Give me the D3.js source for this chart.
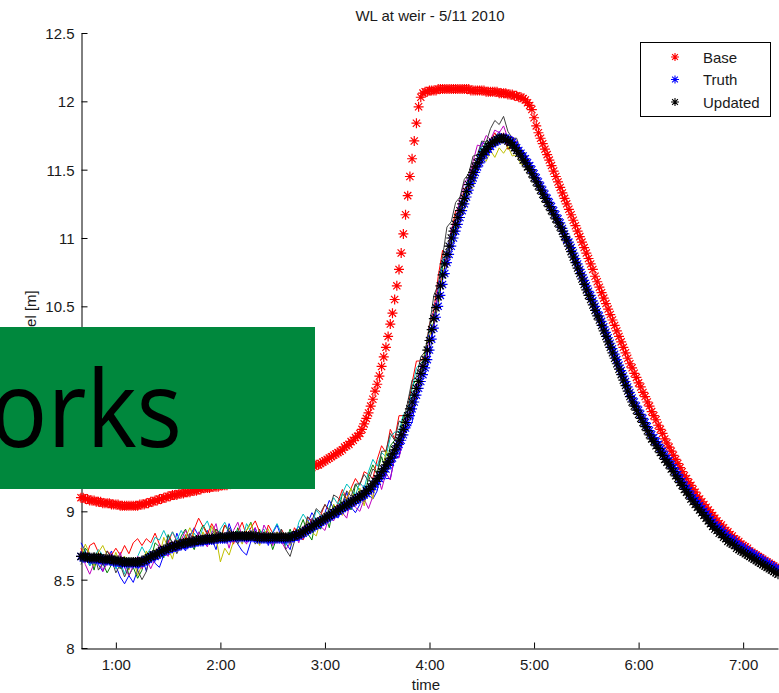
<!DOCTYPE html>
<html>
<head>
<meta charset="utf-8">
<script src="https://cdn.jsdelivr.net/npm/d3@7"></script>
<style>
  body { margin: 0; background: #fff; }
  svg { display: block; }
  text { font-family: "Liberation Sans", Arial, Helvetica, sans-serif; }
</style>
</head>
<body>
<svg id="chart" width="779" height="693"></svg>
<script>
// Time grid: minutes after midnight, first sample and spacing
const startMinute = 40;
const stepMinutes = 1.25;

// Water level at the weir [m], one value per time step
const baseLevel = [
  9.10,9.10,9.09,9.09,9.08,9.08,9.08,9.07,9.07,9.07,9.06,9.06,9.06,9.06,9.05,9.05,
  9.05,9.05,9.04,9.04,9.04,9.04,9.04,9.04,9.04,9.04,9.04,9.05,9.05,9.05,9.06,9.06,
  9.07,9.07,9.08,9.08,9.09,9.09,9.10,9.10,9.11,9.11,9.12,9.12,9.12,9.13,9.13,9.13,
  9.14,9.14,9.14,9.15,9.15,9.15,9.16,9.16,9.17,9.17,9.17,9.17,9.18,9.18,9.18,9.18,
  9.19,9.19,9.19,9.19,9.20,9.20,9.20,9.20,9.21,9.21,9.21,9.21,9.22,9.22,9.22,9.22,
  9.23,9.23,9.23,9.24,9.24,9.24,9.25,9.25,9.25,9.26,9.26,9.26,9.27,9.27,9.27,9.28,
  9.28,9.28,9.29,9.29,9.30,9.30,9.30,9.31,9.31,9.32,9.32,9.33,9.34,9.34,9.35,9.36,
  9.37,9.38,9.39,9.40,9.41,9.42,9.43,9.44,9.45,9.47,9.48,9.49,9.51,9.52,9.54,9.55,
  9.57,9.60,9.64,9.68,9.72,9.77,9.82,9.88,9.93,9.99,10.06,10.13,10.20,10.28,10.37,10.45,
  10.55,10.65,10.77,10.89,11.03,11.17,11.31,11.45,11.58,11.71,11.84,11.96,12.03,12.06,12.07,12.07,
  12.08,12.08,12.08,12.08,12.09,12.09,12.09,12.09,12.09,12.09,12.09,12.09,12.09,12.09,12.09,12.09,
  12.09,12.09,12.09,12.08,12.08,12.08,12.08,12.08,12.08,12.08,12.07,12.07,12.07,12.07,12.07,12.07,
  12.06,12.06,12.06,12.06,12.05,12.05,12.05,12.04,12.04,12.03,12.03,12.02,12.01,11.99,11.97,11.94,
  11.88,11.82,11.77,11.73,11.69,11.65,11.61,11.57,11.53,11.49,11.45,11.41,11.37,11.33,11.29,11.25,
  11.21,11.17,11.13,11.09,11.05,11.01,10.97,10.93,10.89,10.85,10.81,10.77,10.72,10.68,10.64,10.60,
  10.56,10.52,10.48,10.44,10.40,10.36,10.32,10.28,10.24,10.20,10.16,10.12,10.08,10.05,10.01,9.98,
  9.94,9.91,9.87,9.84,9.80,9.77,9.73,9.70,9.67,9.63,9.60,9.57,9.53,9.50,9.47,9.44,
  9.41,9.38,9.35,9.32,9.29,9.26,9.24,9.21,9.19,9.16,9.14,9.11,9.09,9.07,9.05,9.03,
  9.01,8.99,8.97,8.95,8.93,8.91,8.90,8.88,8.86,8.85,8.83,8.82,8.80,8.79,8.78,8.76,
  8.75,8.74,8.73,8.71,8.70,8.69,8.68,8.67,8.66,8.65,8.64,8.63,8.62,8.61,8.60,8.59,
  8.58
];

const truthLevel = [
  8.67,8.66,8.66,8.66,8.66,8.65,8.65,8.65,8.65,8.65,8.64,8.64,8.64,8.64,8.64,8.63,
  8.63,8.63,8.63,8.62,8.62,8.62,8.62,8.62,8.62,8.62,8.62,8.62,8.63,8.63,8.64,8.65,
  8.66,8.67,8.67,8.68,8.69,8.70,8.71,8.71,8.72,8.73,8.73,8.74,8.74,8.75,8.75,8.76,
  8.76,8.76,8.77,8.77,8.77,8.78,8.78,8.78,8.78,8.79,8.79,8.79,8.79,8.79,8.80,8.80,
  8.80,8.80,8.80,8.80,8.81,8.81,8.81,8.81,8.81,8.81,8.81,8.81,8.81,8.81,8.81,8.81,
  8.81,8.80,8.80,8.80,8.80,8.80,8.80,8.80,8.80,8.80,8.80,8.80,8.80,8.80,8.80,8.80,
  8.80,8.81,8.81,8.82,8.82,8.83,8.84,8.85,8.86,8.87,8.88,8.89,8.90,8.91,8.92,8.93,
  8.94,8.95,8.96,8.97,8.98,8.99,9.00,9.01,9.02,9.03,9.04,9.05,9.06,9.07,9.08,9.09,
  9.10,9.11,9.12,9.13,9.15,9.16,9.18,9.20,9.22,9.24,9.26,9.29,9.31,9.34,9.36,9.39,
  9.42,9.45,9.49,9.52,9.56,9.61,9.65,9.70,9.75,9.80,9.85,9.90,9.95,10.00,10.05,10.11,
  10.18,10.26,10.34,10.42,10.50,10.58,10.66,10.74,10.82,10.88,10.94,11.00,11.05,11.10,11.15,11.20,
  11.25,11.30,11.35,11.40,11.44,11.48,11.52,11.55,11.58,11.61,11.63,11.65,11.67,11.69,11.70,11.71,
  11.72,11.73,11.73,11.73,11.72,11.71,11.70,11.68,11.66,11.64,11.62,11.60,11.58,11.55,11.53,11.50,
  11.47,11.44,11.41,11.38,11.35,11.32,11.29,11.26,11.23,11.20,11.17,11.14,11.11,11.07,11.03,10.99,
  10.97,10.93,10.89,10.85,10.81,10.77,10.73,10.69,10.65,10.61,10.58,10.54,10.50,10.46,10.43,10.39,
  10.35,10.31,10.27,10.23,10.19,10.15,10.11,10.07,10.03,9.99,9.95,9.91,9.87,9.83,9.80,9.77,
  9.74,9.71,9.68,9.65,9.62,9.59,9.56,9.54,9.51,9.49,9.46,9.44,9.41,9.39,9.37,9.34,
  9.32,9.29,9.27,9.24,9.22,9.19,9.17,9.15,9.12,9.10,9.08,9.06,9.04,9.02,9.00,8.98,
  8.96,8.94,8.92,8.90,8.89,8.87,8.86,8.84,8.83,8.81,8.80,8.79,8.78,8.76,8.75,8.74,
  8.73,8.72,8.71,8.70,8.69,8.68,8.67,8.66,8.65,8.64,8.63,8.62,8.61,8.60,8.59,8.58,
  8.57
];

const updatedLevel = [
  8.67,8.67,8.67,8.66,8.66,8.66,8.66,8.66,8.66,8.66,8.65,8.65,8.65,8.65,8.65,8.64,
  8.64,8.64,8.64,8.63,8.63,8.63,8.63,8.63,8.63,8.63,8.63,8.63,8.64,8.64,8.65,8.66,
  8.67,8.68,8.68,8.69,8.70,8.71,8.72,8.72,8.73,8.74,8.74,8.75,8.75,8.76,8.76,8.77,
  8.77,8.77,8.78,8.78,8.78,8.79,8.79,8.79,8.79,8.80,8.80,8.80,8.80,8.80,8.81,8.81,
  8.81,8.81,8.81,8.81,8.82,8.82,8.82,8.82,8.82,8.82,8.82,8.82,8.82,8.82,8.82,8.82,
  8.82,8.81,8.81,8.81,8.81,8.81,8.81,8.81,8.81,8.81,8.81,8.81,8.81,8.81,8.81,8.81,
  8.81,8.82,8.82,8.83,8.83,8.84,8.85,8.86,8.87,8.88,8.89,8.90,8.91,8.92,8.93,8.94,
  8.95,8.96,8.97,8.98,8.99,9.00,9.01,9.02,9.03,9.04,9.05,9.06,9.07,9.08,9.09,9.10,
  9.11,9.12,9.13,9.15,9.16,9.18,9.20,9.22,9.24,9.26,9.29,9.31,9.34,9.36,9.39,9.42,
  9.45,9.48,9.52,9.56,9.60,9.65,9.70,9.75,9.80,9.85,9.90,9.95,10.01,10.06,10.11,10.18,
  10.25,10.33,10.41,10.49,10.57,10.65,10.73,10.81,10.88,10.94,11.00,11.05,11.10,11.15,11.20,11.25,
  11.29,11.34,11.39,11.44,11.48,11.52,11.55,11.58,11.61,11.63,11.65,11.67,11.69,11.70,11.71,11.72,
  11.73,11.73,11.73,11.72,11.71,11.70,11.68,11.66,11.64,11.62,11.60,11.57,11.55,11.52,11.50,11.47,
  11.44,11.41,11.38,11.35,11.32,11.29,11.26,11.23,11.20,11.17,11.14,11.11,11.08,11.05,11.01,10.98,
  10.94,10.90,10.86,10.82,10.78,10.74,10.70,10.66,10.62,10.58,10.55,10.51,10.47,10.43,10.40,10.36,
  10.32,10.28,10.24,10.20,10.16,10.12,10.08,10.04,10.00,9.96,9.92,9.88,9.84,9.80,9.77,9.74,
  9.71,9.68,9.65,9.62,9.59,9.56,9.53,9.51,9.48,9.46,9.43,9.41,9.38,9.36,9.34,9.31,
  9.29,9.26,9.24,9.21,9.19,9.16,9.14,9.12,9.09,9.07,9.05,9.03,9.01,8.99,8.97,8.95,
  8.93,8.91,8.89,8.87,8.86,8.84,8.83,8.81,8.80,8.78,8.77,8.76,8.75,8.73,8.72,8.71,
  8.70,8.69,8.68,8.67,8.66,8.65,8.64,8.63,8.62,8.61,8.60,8.59,8.58,8.57,8.56,8.55,
  8.54
];

// Ensemble members: offsets in cm from the updated level, every second time step
const memberOffsets = [
  [ 10,4,-6,3,-5,-9,0,6, -4,-12,-16,-10,-15,-6,3,-9, 4,-6,-11,-4,6,-3,9,0, -6,4,10,3,-4,6,0,-9,
    4,-3,9,0,-6,-11,-14,-4, 6,-3,4,-6,3,9,0,-4, -9,3,6,-4,4,10,3,-6, 4,11,3,-6,0,9,-4,-10,
    -6,6,-4,-11,-9,4,-10,-15, -6,-12,-4,-10,-15,-6,3,-8, -12,-4,5,-3,-9,2,-6,4, -2,6,-3,4,9,3,-4,2,
    5,-3,2,6,-2,4,1,-3, 2,-1,3,0,-2,1,-1,2, 0,2,-1,1,-2,0,1,-1, 1,-1,2,0,-1,1,-2,0,
    1,0,-1,2,0,-1,1,0, -1,1,0,-1,1,0,-1,1, 0,-1,1,0,0,-1,1,0, -1,0,1,0,-1,1,0,-1, 0 ],
  [ -4,6,3,-9,4,-3,-10,-4, 3,-6,4,-10,-4,-12,-7,4, -3,9,4,-6,10,3,-4,6, 10,0,-6,4,11,4,-3,6,
    0,9,3,-4,6,-3,4,10, -3,6,-4,3,-9,0,4,-3, 6,-4,3,9,-3,-10,4,-6, 3,-9,6,-3,10,4,-6,11,
    4,-6,10,14,4,11,-4,9, 7,2,9,4,12,6,-3,5, 10,3,-5,6,2,-4,8,-2, 4,-3,5,-6,2,6,-2,3,
    -4,2,-6,1,4,-2,3,-1, -2,1,-3,0,2,-1,1,0, 1,-1,0,2,-1,1,0,-1, 0,1,-1,0,1,-1,0,1,
    -1,0,1,-1,0,1,-1,0, 1,-1,0,1,-1,0,1,-1, 0,1,-1,0,1,0,-1,0, 1,0,-1,0,1,-1,0,1, 0 ],
  [ 6,-3,9,11,4,-4,6,3, 9,4,12,6,14,17,11,15, 10,16,6,-3,4,11,3,-4, 6,-4,9,16,10,3,11,4,
    -3,9,4,-6,3,10,0,6, 11,4,-3,9,3,-4,6,0, -4,6,0,-6,9,3,-3,4, 10,3,-4,6,13,4,10,15,
    8,16,11,4,14,19,9,21, 8,18,10,4,14,20,9,3, 12,6,15,18,-8,4,10,2, 7,-2,5,1,3,-4,2,6,
    -3,4,-6,-2,3,-1,2,-2, 1,-2,2,0,-1,1,0,-1, -1,1,0,-1,2,0,-1,1, 0,-1,1,0,-1,1,0,-1,
    1,0,-1,1,0,-1,0,1, 0,1,-1,0,1,-1,0,1, -1,0,1,-1,0,1,0,-1, 0,1,0,-1,0,1,-1,0, 0 ],
  [ -3,4,-6,0,6,3,-4,4, -6,0,-9,3,-4,4,10,3, 6,13,9,14,6,11,4,10, 3,-4,6,0,9,13,4,-3,
    6,11,3,-4,4,-3,9,3, -4,3,6,-3,4,10,3,-6, 4,-3,9,13,6,0,10,4, -3,6,11,4,10,15,9,3,
    10,4,13,18,9,14,6,15, 13,6,11,4,9,15,7,2, 8,-3,5,9,2,-5,3,6, 1,5,-2,3,6,1,-3,2,
    3,-2,4,-3,1,3,-2,1, 2,0,-2,1,0,-1,2,0, 0,-1,1,0,-1,1,0,0, 1,0,-1,1,0,0,-1,1,
    0,1,0,-1,1,0,-1,0, 1,0,-1,0,1,0,-1,1, 0,-1,0,1,0,-1,1,0, -1,0,1,0,-1,0,1,0, 0 ],
  [ 4,-6,-12,-4,3,-9,-3,4, -3,6,-4,-10,-3,4,-6,0, -9,-3,6,0,-6,4,-4,3, 9,3,-4,6,0,-6,4,10,
    -4,3,-9,4,10,0,-6,3, 6,-4,9,3,-6,4,-3,-9, -4,3,-6,4,-3,6,0,-4, -9,0,-6,4,-4,-10,3,-6,
    -11,-4,-14,-9,3,-13,-6,-16, -5,-13,-7,2,-9,-4,6,-3, 4,-6,8,1,-4,7,3,9, 12,5,8,13,6,10,3,8,
    4,9,2,6,7,3,6,4, 3,1,2,-1,1,0,2,0, 1,-1,0,1,-1,0,1,0, -1,0,1,-1,0,1,0,-1,
    0,1,-1,0,1,0,-1,0, 1,0,0,-1,1,0,-1,0, 0,1,0,-1,0,1,0,-1, 1,0,-1,0,1,0,-1,0, 0 ],
  [ 0,9,3,-6,4,10,3,-4, 6,-3,4,-6,3,-10,-3,6, -4,4,-3,9,0,-9,4,-3, 4,10,3,-4,6,-3,9,0,
    -18,-8,-14,-4,3,-6,4,9, 0,-6,3,6,-4,4,-3,3, -6,0,4,-3,6,-4,-9,0, 4,-4,6,0,-6,4,10,-3,
    6,-9,3,-11,4,-6,11,-4, 4,-5,7,1,-6,3,-2,8, 3,-2,-8,1,-4,3,-6,-1, -9,-4,-11,-6,-2,-9,-5,-12,
    -7,-11,-4,-8,-3,-6,-1,-3, -2,1,-1,0,-2,1,0,-1, 1,0,-1,1,0,-1,0,1, 0,-1,0,1,-1,0,1,0,
    -1,1,0,-1,0,1,0,-1, 0,-1,1,0,-1,0,1,0, 1,0,-1,0,1,0,-1,1, 0,-1,0,1,0,-1,0,1, 0 ],
  [ -6,3,-4,4,-9,-3,6,0, -9,-3,-11,-4,3,-6,-14,-9, 3,-4,4,-3,9,3,-6,0, -4,6,0,-3,4,-4,3,6,
    3,-4,6,0,-6,3,-3,4, -6,0,4,-4,3,-3,6,-9, -14,-4,3,-3,9,4,11,6, 10,4,13,9,3,10,4,11,
    9,14,6,11,4,15,10,18, 7,14,5,10,16,8,12,6, 11,17,9,13,20,12,16,10, 14,8,12,6,10,5,11,15,
    10,16,7,5,9,3,7,2, 1,3,-1,2,0,-1,1,0, -1,0,1,-1,0,1,-1,0, 1,0,-1,0,1,0,-1,1,
    0,-1,1,0,-1,0,1,0, -1,0,1,0,0,-1,1,0, 1,0,-1,1,0,-1,0,1, 0,1,0,-1,0,1,0,-1, 0 ]
];
const memberColors = ["#0000ff", "#008000", "#ff0000", "#00bfbf", "#bf00bf", "#bfbf00", "#404040"];

const seriesNames = ["Base", "Truth", "Updated"];
const seriesColors = ["#ff0000", "#0000ff", "#000000"];

const yTickValues = [8, 8.5, 9, 9.5, 10, 10.5, 11, 11.5, 12, 12.5];
const xTickMinutes = [60, 120, 180, 240, 300, 360, 420];
const xTickLabels = ["1:00", "2:00", "3:00", "4:00", "5:00", "6:00", "7:00"];

const chartTitle = "WL at weir - 5/11 2010";
const xAxisTitle = "time";
const yAxisTitle = "Water level [m]";
const bannerText = "orks";

// ---------------------------------------------------------------
const svg = d3.select("#chart");
const W = 779, H = 693;
svg.append("rect").attr("width", W).attr("height", H).attr("fill", "#fff");

const x = d3.scaleLinear().domain([40, 440]).range([81, 778]);
const y = d3.scaleLinear().domain([8, 12.5]).range([648, 33]);

const minuteAt = i => startMinute + i * stepMinutes;

// Axes (ticks point into the plot area, no box)
const yAxis = d3.axisLeft(y).tickValues(yTickValues).tickFormat(d => String(d))
  .tickSizeInner(-6).tickSizeOuter(0).tickPadding(7);
const xAxis = d3.axisBottom(x).tickValues(xTickMinutes).tickFormat((d, i) => xTickLabels[i])
  .tickSizeInner(-6).tickSizeOuter(0).tickPadding(11);

const gy = svg.append("g").attr("transform", "translate(81.5,0)").call(yAxis);
const gx = svg.append("g").attr("transform", "translate(0,648.5)").call(xAxis);
[gx, gy].forEach(g => {
  g.selectAll("path.domain").attr("stroke", "#000").attr("stroke-width", 1);
  g.selectAll(".tick line").attr("stroke", "#000").attr("stroke-width", 1);
  g.selectAll(".tick text").attr("fill", "#1a1a1a").style("font-size", "15px")
    .style("font-family", "'Liberation Sans', Arial, sans-serif");
});
gy.selectAll(".tick text").attr("dy", "0.36em");

// Ensemble members as thin lines
const plot = svg.append("g");
const memberLine = d3.line().x(d => x(d[0])).y(d => y(d[1]));
memberOffsets.forEach((offs, m) => {
  const pts = offs.map((o, j) => [minuteAt(2 * j), updatedLevel[2 * j] + o / 100]);
  plot.append("path").datum(pts)
    .attr("d", memberLine)
    .attr("fill", "none")
    .attr("stroke", memberColors[m])
    .attr("stroke-width", 1)
    .attr("stroke-linejoin", "round");
});

// Asterisk marker
const starPath = "M-5,0H5M0,-5V5M-3.6,-3.6L3.6,3.6M-3.6,3.6L3.6,-3.6";

const seriesData = [baseLevel, truthLevel, updatedLevel];
seriesData.forEach((vals, s) => {
  plot.append("g").selectAll("path")
    .data(vals)
    .join("path")
    .attr("d", starPath)
    .attr("transform", (v, i) => `translate(${x(minuteAt(i)).toFixed(2)},${y(v).toFixed(2)})`)
    .attr("fill", "none")
    .attr("stroke", seriesColors[s])
    .attr("stroke-width", 1.2);
});

// Title and axis titles
svg.append("text").attr("x", 430).attr("y", 21).attr("text-anchor", "middle")
  .attr("fill", "#1a1a1a").style("font-size", "15px").text(chartTitle);
svg.append("text").attr("x", 426).attr("y", 690).attr("text-anchor", "middle")
  .attr("fill", "#1a1a1a").style("font-size", "15px").text(xAxisTitle);
svg.append("text").attr("transform", "translate(36,340) rotate(-90)")
  .attr("text-anchor", "middle").attr("fill", "#1a1a1a").style("font-size", "15px")
  .text(yAxisTitle);

// Legend
const legend = svg.append("g");
legend.append("rect").attr("x", 640.5).attr("y", 42.5).attr("width", 130).attr("height", 74)
  .attr("fill", "#fff").attr("stroke", "#000").attr("stroke-width", 1);
seriesNames.forEach((name, k) => {
  const cy = 57 + k * 22.5;
  legend.append("path").attr("d", "M-4,0H4M0,-4V4M-2.9,-2.9L2.9,2.9M-2.9,2.9L2.9,-2.9")
    .attr("transform", `translate(675,${cy})`)
    .attr("fill", "none").attr("stroke", seriesColors[k]).attr("stroke-width", 1.1);
  legend.append("text").attr("x", 703).attr("y", cy + 5.5)
    .attr("fill", "#1a1a1a").style("font-size", "15px").text(name);
});

// Green banner laid over the left of the plot
svg.append("rect").attr("x", 0).attr("y", 327).attr("width", 315).attr("height", 162)
  .attr("fill", "#00883d");
svg.append("text")
  .attr("transform", "translate(182,447) scale(0.9,1)")
  .attr("text-anchor", "end")
  .attr("fill", "#000")
  .style("font-family", "'Open Sans', Lato, sans-serif")
  .style("font-size", "106px")
  .text(bannerText);
</script>
</body>
</html>
